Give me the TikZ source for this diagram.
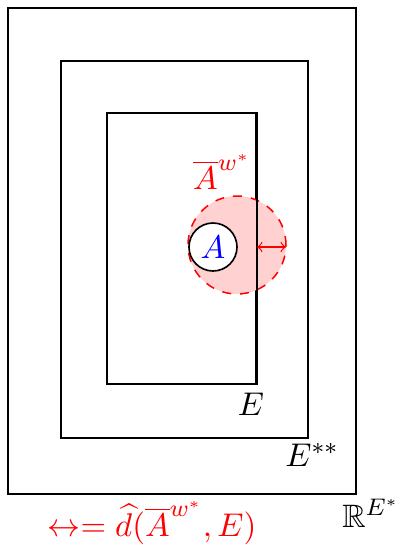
\documentclass[tikz,border=0pt]{standalone}
\usepackage{amsmath,amssymb}
\begin{document}
\begin{tikzpicture}[x=0.3333pt,y=-0.3333pt,
  box/.style={draw=black,line width=0.55pt},
  lbl/.style={inner sep=0pt,font=\fontsize{10.8}{13}\selectfont},
  redtxt/.style={lbl,text=red}]
\useasboundingbox (0,0) rectangle (401,545);
\node[box,minimum width=348*0.3333pt,minimum height=486*0.3333pt,inner sep=0pt] (outer) at (182,251) {};
\node[box,minimum width=247*0.3333pt,minimum height=377*0.3333pt,inner sep=0pt] (mid) at (184.5,249.5) {};
\node[box,minimum width=149*0.3333pt,minimum height=271*0.3333pt,inner sep=0pt] (inner) at (181.5,248.5) {};
\node[circle,draw=red,dashed,fill=red!18,line width=0.5pt,minimum size=98*0.3333pt,inner sep=0pt] (clos) at (237,245) {};
\draw[box] (inner.north east) -- (inner.south east);
\node[circle,draw=black,fill=white,line width=0.55pt,minimum size=48*0.3333pt,inner sep=0pt] (A) at (213,247) {};
\node[lbl,text=blue] at (A) {$A$};
\coordinate (aL) at (257,247);
\coordinate (aR) at (286,247);
\draw[red,<->,line width=0.4pt] (aL) -- (aR);
\node[redtxt] (cl) at (222,172) {$\overline{A}^{w^*}$};
\node[lbl] (e1) at (251,404) {$E$};
\node[lbl] (e2) at (312,455) {$E^{**}$};
\node[lbl] (e3) at (371,513) {$\mathbb{R}^{E^*}$};
\node[redtxt] (form) at (152,523) {$\leftrightarrow = \widehat{d}(\overline{A}^{w^*},E)$};
\end{tikzpicture}
\end{document}
